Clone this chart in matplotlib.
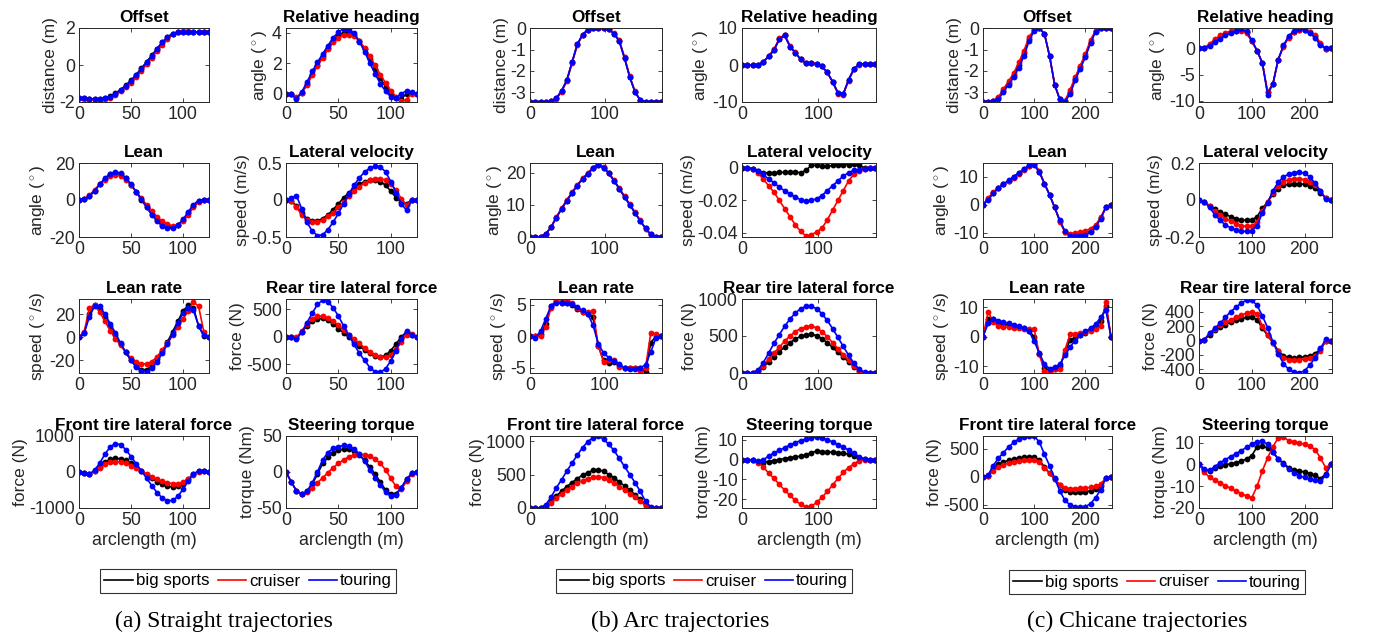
import matplotlib
matplotlib.use("Agg")
import matplotlib.pyplot as plt
from matplotlib.lines import Line2D
from matplotlib.ticker import FuncFormatter

plt.rcParams['font.family'] = ['Liberation Sans', 'DejaVu Sans']
plt.rcParams['mathtext.fontset'] = 'custom'
plt.rcParams['mathtext.rm'] = 'Liberation Sans'
plt.rcParams['axes.unicode_minus'] = False

# arclength samples (m)
s_x = list(range(0, 126, 5))    # straight
a_x = list(range(0, 176, 7))    # arc
c_x = list(range(0, 251, 10))   # chicane

series_names = ['big sports', 'cruiser', 'touring']
captions = ['(a) Straight trajectories', '(b) Arc trajectories', '(c) Chicane trajectories']
titles = ['Offset', 'Relative heading', 'Lean', 'Lateral velocity',
          'Lean rate', 'Rear tire lateral force', 'Front tire lateral force', 'Steering torque']
ylabels = ['distance (m)', r'angle ($^\circ$)', r'angle ($^\circ$)', 'speed (m/s)',
           r'speed ($^\circ$/s)', 'force (N)', 'force (N)', 'torque (Nm)']

# ---------------- straight ----------------
s_offset_big = [-1.78, -1.80, -1.83, -1.85, -1.85, -1.80, -1.70, -1.53, -1.33, -1.10, -0.83, -0.52, -0.18, 0.17, 0.52, 0.88, 1.22, 1.50, 1.70, 1.78, 1.80, 1.80, 1.78, 1.77, 1.76, 1.76]
s_offset_cru = [-1.78, -1.82, -1.85, -1.88, -1.88, -1.85, -1.77, -1.62, -1.43, -1.20, -0.95, -0.65, -0.32, 0.03, 0.40, 0.75, 1.10, 1.42, 1.65, 1.78, 1.83, 1.83, 1.80, 1.78, 1.76, 1.76]
s_offset_tour = [-1.78, -1.80, -1.83, -1.85, -1.85, -1.81, -1.71, -1.55, -1.35, -1.12, -0.85, -0.55, -0.20, 0.15, 0.50, 0.88, 1.22, 1.50, 1.70, 1.78, 1.80, 1.80, 1.78, 1.77, 1.76, 1.76]

s_head_big = [0, -0.05, -0.30, 0.05, 0.60, 1.30, 1.90, 2.45, 3.00, 3.45, 3.80, 4.00, 4.00, 3.85, 3.45, 2.90, 2.25, 1.60, 1.00, 0.45, 0.00, -0.30, -0.35, 0.00, 0.05, 0.00]
s_head_cru = [0, -0.05, -0.25, 0.05, 0.55, 1.20, 1.80, 2.35, 2.90, 3.35, 3.65, 3.85, 3.85, 3.75, 3.45, 3.00, 2.45, 1.85, 1.25, 0.70, 0.20, -0.20, -0.50, -0.40, 0.00, 0.00]
s_head_tour = [0, -0.05, -0.35, 0.10, 0.75, 1.45, 2.05, 2.60, 3.15, 3.65, 4.05, 4.25, 4.20, 3.95, 3.40, 2.75, 2.00, 1.30, 0.65, 0.15, -0.20, -0.30, 0.00, 0.18, 0.10, 0.00]

s_lean_big = [0, 0.3, 2.0, 5.0, 8.5, 11.5, 14.0, 14.8, 14.0, 11.8, 8.3, 4.3, 0.2, -3.8, -7.7, -11.0, -13.5, -14.6, -14.8, -13.5, -11.0, -7.0, -3.0, -0.5, 0, 0]
s_lean_cru = [0, 0.5, 2.5, 5.5, 8.5, 11.0, 13.0, 13.5, 13.0, 11.0, 8.0, 4.5, 1.0, -2.5, -6.0, -9.0, -11.5, -13.0, -14.0, -13.5, -11.5, -8.0, -4.0, -1.0, 0, 0]
s_lean_tour = [0, 0.3, 2.0, 5.0, 8.5, 11.8, 14.3, 15.3, 14.5, 12.0, 8.5, 4.5, 0.3, -4.0, -8.0, -11.5, -14.0, -15.3, -15.3, -13.5, -10.5, -6.5, -2.5, -0.3, 0, 0]

s_latv_big = [0, -0.01, -0.08, -0.18, -0.25, -0.28, -0.28, -0.25, -0.20, -0.13, -0.05, 0.03, 0.10, 0.16, 0.21, 0.25, 0.27, 0.27, 0.25, 0.20, 0.12, 0.03, -0.03, -0.05, 0, 0]
s_latv_cru = [0, -0.01, -0.10, -0.20, -0.27, -0.30, -0.30, -0.27, -0.22, -0.17, -0.10, -0.03, 0.05, 0.12, 0.18, 0.23, 0.27, 0.29, 0.29, 0.27, 0.22, 0.13, 0.02, -0.07, 0, 0]
s_latv_tour = [0, 0.03, 0.06, -0.12, -0.30, -0.42, -0.48, -0.47, -0.40, -0.30, -0.18, -0.05, 0.08, 0.20, 0.30, 0.38, 0.43, 0.46, 0.45, 0.38, 0.25, 0.10, -0.05, -0.14, 0, 0]

s_rate_big = [0, 4, 20, 28, 25, 18, 10, 2, -6, -13, -20, -25, -28, -28, -25, -19, -12, -4, 5, 14, 23, 28, 26, 10, 1, 0]
s_rate_cru = [0, 5, 26, 28, 22, 14, 6, -1, -7, -13, -18, -21, -23, -23, -21, -17, -11, -5, 2, 9, 16, 23, 31, 27, 5, 0]
s_rate_tour = [0, 4, 18, 27.5, 27, 20, 12, 4, -5, -13, -20, -26, -29.5, -30, -27, -21, -14, -6, 3, 13, 21, 25.5, 24, 10, 2, 0]

s_rear_big = [0, -5, -20, 90, 200, 290, 330, 335, 300, 230, 150, 70, -10, -90, -170, -240, -300, -350, -375, -340, -250, -130, 0, 90, 40, 0]
s_rear_cru = [0, 0, -10, 100, 230, 330, 375, 380, 350, 290, 210, 120, 40, -40, -120, -200, -280, -340, -375, -375, -330, -230, -100, 40, 50, 0]
s_rear_tour = [0, -5, -40, 80, 260, 430, 590, 670, 640, 530, 380, 200, 30, -140, -300, -430, -560, -640, -650, -580, -440, -250, -40, 100, 40, 0]

s_front_big = [0, -30, -60, 30, 150, 270, 350, 380, 370, 320, 240, 140, 30, -80, -180, -270, -340, -390, -420, -400, -320, -200, -60, 20, 20, 0]
s_front_cru = [0, -20, -50, 20, 120, 210, 270, 290, 280, 240, 180, 110, 30, -50, -130, -200, -260, -300, -320, -320, -280, -190, -70, 10, 20, 0]
s_front_tour = [0, -30, -60, 50, 250, 500, 700, 790, 760, 620, 430, 230, 30, -170, -380, -570, -720, -800, -790, -680, -480, -250, -50, 30, 30, 0]

s_torq_big = [0, -14, -26, -31, -27, -17, -3, 12, 21, 26, 30, 32, 32, 29, 24, 16, 7, -3, -14, -25, -31, -30, -22, -10, -2, 0]
s_torq_cru = [0, -14, -26, -31, -28, -22, -15, -8, -1, 6, 12, 17, 21, 24, 25, 24, 22, 18, 12, 3, -9, -20, -24, -13, -3, 0]
s_torq_tour = [0, -14, -26, -31, -27, -15, 0, 17, 27, 33, 35, 37, 36, 32, 25, 15, 3, -8, -18, -28, -34, -32, -22, -10, -2, 0]

# ---------------- arc ----------------
a_offset_big = [-3.45, -3.45, -3.45, -3.45, -3.43, -3.30, -2.95, -2.45, -1.60, -0.75, -0.30, -0.06, 0, 0, 0, -0.05, -0.25, -0.60, -1.40, -2.30, -3.00, -3.38, -3.45, -3.45, -3.45, -3.45]
a_offset_cru = [-3.45, -3.45, -3.45, -3.45, -3.44, -3.33, -3.00, -2.50, -1.65, -0.80, -0.32, -0.07, 0, 0, 0, -0.04, -0.22, -0.55, -1.35, -2.25, -2.97, -3.40, -3.46, -3.46, -3.45, -3.45]
a_offset_tour = [-3.45, -3.45, -3.45, -3.45, -3.43, -3.30, -2.95, -2.45, -1.60, -0.75, -0.30, -0.06, 0, 0, 0, -0.05, -0.25, -0.60, -1.40, -2.30, -3.00, -3.38, -3.45, -3.45, -3.45, -3.45]

a_head_big = [0, 0, 0, 0.1, 0.8, 2.3, 4.0, 7.0, 8.0, 5.0, 3.3, 1.5, 0.5, 0.5, 0.3, -0.4, -2.0, -4.5, -7.5, -7.8, -4.0, -1.0, 0.2, 0.3, 0.2, 0.2]
a_head_cru = [0, 0, 0, 0.1, 0.9, 2.5, 4.2, 7.2, 8.2, 5.2, 3.4, 1.6, 0.6, 0.6, 0.4, -0.3, -2.0, -4.6, -7.8, -8.0, -4.2, -1.2, 0, 0.3, 0.3, 0.2]
a_head_tour = [0, 0, 0, 0.1, 0.8, 2.3, 4.0, 7.0, 8.0, 5.0, 3.3, 1.5, 0.5, 0.5, 0.3, -0.4, -2.0, -4.5, -7.5, -7.8, -4.0, -1.0, 0.2, 0.3, 0.2, 0.2]

a_lean_big = [0, 0, 0.1, 1.0, 3.0, 6.0, 8.7, 11.3, 13.7, 16.0, 18.0, 19.7, 21.3, 22.5, 21.6, 19.8, 17.5, 15.0, 12.5, 10.0, 7.5, 5.0, 2.7, 0.8, 0.1, 0]
a_lean_cru = [0, 0, 0.1, 1.0, 3.1, 6.2, 8.9, 11.5, 13.9, 16.2, 18.2, 19.9, 21.6, 22.9, 21.8, 20.0, 17.7, 15.2, 12.7, 10.2, 7.7, 5.2, 2.6, 0.6, 0, 0]
a_lean_tour = [0, 0, 0.1, 1.0, 3.0, 6.0, 8.7, 11.3, 13.7, 16.0, 18.0, 19.7, 21.3, 22.4, 21.6, 19.8, 17.5, 15.0, 12.5, 10.0, 7.5, 5.0, 2.7, 0.8, 0.1, 0]

a_latv_big = [0, 0, -0.0005, -0.002, -0.003, -0.003, -0.003, -0.0028, -0.0027, -0.0027, -0.0025, -0.003, -0.0015, 0.0015, 0.0015, 0.001, 0.001, 0.0015, 0.0015, 0.002, 0.002, 0.0025, 0.0015, 0, 0, 0]
a_latv_cru = [0, 0, -0.0005, -0.003, -0.007, -0.011, -0.015, -0.020, -0.025, -0.030, -0.035, -0.039, -0.042, -0.041, -0.0395, -0.037, -0.032, -0.026, -0.020, -0.014, -0.008, -0.004, -0.002, -0.0005, 0, 0]
a_latv_tour = [0, 0, -0.0005, -0.002, -0.004, -0.007, -0.009, -0.012, -0.014, -0.016, -0.018, -0.0195, -0.0205, -0.020, -0.019, -0.017, -0.014, -0.011, -0.008, -0.005, -0.003, -0.0015, -0.001, -0.0005, 0, 0]

a_rate_big = [0, 0, 0.3, 2.0, 4.8, 5.6, 5.4, 5.3, 5.0, 4.3, 3.8, 3.6, 3.0, -1.5, -3.8, -4.2, -4.0, -4.6, -5.0, -5.0, -5.0, -5.0, -5.7, -1.0, 0, 0]
a_rate_cru = [0, 0, 0, 1.5, 4.5, 5.8, 5.3, 5.8, 5.3, 4.5, 3.8, 3.8, 4.0, -1.5, -4.0, -3.8, -3.7, -4.8, -5.0, -5.0, -5.0, -5.5, -5.0, 0.5, 0.3, 0]
a_rate_tour = [0, -0.2, 0.8, 2.8, 4.8, 5.2, 5.3, 5.3, 5.1, 4.6, 4.1, 3.5, 1.8, -1.2, -2.6, -3.4, -3.9, -4.4, -5.0, -5.1, -5.1, -5.0, -4.5, -2.5, -0.2, 0]

a_rear_big = [0, 0, 5, 25, 80, 150, 220, 290, 350, 410, 460, 495, 515, 525, 505, 465, 410, 345, 280, 215, 150, 85, 30, 5, 0, 0]
a_rear_cru = [0, 0, 5, 30, 100, 190, 270, 350, 430, 500, 560, 600, 625, 635, 610, 560, 490, 410, 330, 250, 170, 90, 30, 0, 0, 0]
a_rear_tour = [0, 0, 5, 40, 140, 270, 400, 520, 630, 730, 810, 870, 900, 900, 870, 800, 710, 600, 480, 360, 240, 130, 50, 10, 0, 0]

a_front_big = [0, 0, 5, 30, 100, 180, 250, 320, 380, 440, 490, 530, 560, 570, 550, 500, 450, 390, 330, 270, 200, 130, 50, 5, 0, 0]
a_front_cru = [0, 0, 3, 20, 80, 150, 210, 270, 320, 370, 410, 440, 460, 470, 455, 415, 370, 320, 270, 215, 160, 100, 35, 3, 0, 0]
a_front_tour = [0, 0, 5, 50, 160, 300, 420, 550, 670, 790, 900, 990, 1050, 1070, 1030, 950, 860, 740, 620, 500, 380, 250, 100, 15, 0, 0]

a_torq_big = [0, 0, -0.3, -1.2, -1.5, -1.0, -0.5, 0, 0.5, 1.0, 1.3, 1.7, 2.3, 3.5, 4.2, 4.0, 3.8, 3.7, 3.5, 3.2, 2.7, 2.0, 1.0, 0.2, 0, 0]
a_torq_cru = [0, 0, -0.2, -1.5, -3.8, -6.8, -9.5, -12.5, -15.3, -18.0, -20.5, -22.5, -23.8, -23.5, -21.5, -19.0, -16.0, -12.8, -9.5, -6.5, -4.0, -2.2, -0.5, 0, 0, 0]
a_torq_tour = [0, 0, -0.3, -0.8, -0.2, 1.8, 3.3, 4.6, 6.0, 7.3, 8.5, 9.5, 10.3, 11.0, 11.2, 10.6, 9.9, 8.8, 7.5, 6.2, 4.8, 3.2, 1.4, 0.2, 0, 0]

# ---------------- chicane ----------------
c_offset_big = [-3.45, -3.45, -3.43, -3.30, -2.93, -2.58, -2.20, -1.73, -1.18, -0.50, -0.08, 0, -0.25, -1.30, -2.65, -3.35, -3.44, -3.00, -2.38, -1.83, -1.28, -0.62, -0.12, 0, 0, 0]
c_offset_cru = [-3.45, -3.45, -3.42, -3.25, -2.85, -2.50, -2.10, -1.60, -1.05, -0.40, -0.05, 0, -0.25, -1.30, -2.65, -3.35, -3.42, -2.90, -2.30, -1.75, -1.20, -0.55, -0.10, 0, 0, 0]
c_offset_tour = [-3.45, -3.45, -3.44, -3.33, -3.00, -2.65, -2.30, -1.85, -1.30, -0.60, -0.10, 0, -0.25, -1.30, -2.65, -3.35, -3.45, -3.10, -2.45, -1.90, -1.35, -0.70, -0.15, 0, 0, 0]

c_head_big = [0, 0, 0.6, 1.4, 2.1, 2.6, 3.0, 3.3, 3.4, 3.0, 1.4, -0.5, -2.8, -8.4, -6.8, -2.2, 0.4, 2.1, 3.1, 3.5, 3.4, 3.0, 2.2, 0.7, -0.1, 0]
c_head_cru = [0, 0, 0.8, 1.7, 2.4, 2.9, 3.2, 3.4, 3.3, 2.8, 1.3, -0.5, -2.8, -8.3, -6.8, -2.2, 0.3, 2.0, 3.0, 3.4, 3.5, 3.1, 2.4, 1.0, -0.2, 0]
c_head_tour = [0, 0, 0.4, 1.1, 1.8, 2.4, 2.9, 3.3, 3.6, 3.2, 1.5, -0.5, -2.8, -8.8, -6.8, -2.2, 0.5, 2.3, 3.3, 3.7, 3.4, 2.9, 2.0, 0.5, 0, 0]

c_lean_big = [0, 2.0, 4.2, 5.9, 7.3, 8.5, 9.8, 11.2, 12.5, 13.8, 14.3, 11.7, 7.5, 3.5, -1.0, -5.8, -9.6, -10.7, -10.8, -10.7, -10.2, -9.2, -7.6, -4.8, -0.9, 0]
c_lean_cru = [0, 2.3, 4.5, 6.0, 7.3, 8.3, 9.6, 11.0, 12.3, 13.6, 14.6, 12.0, 7.5, 3.5, -1.0, -6.0, -9.8, -10.3, -10.0, -9.8, -9.3, -8.5, -7.2, -4.5, -0.8, 0]
c_lean_tour = [0, 1.8, 4.0, 5.8, 7.3, 8.6, 10.0, 11.3, 12.6, 14.0, 14.0, 11.5, 7.5, 3.5, -1.0, -5.5, -9.5, -11.0, -11.3, -11.3, -10.8, -9.8, -8.0, -5.0, -1.0, 0]

c_latv_big = [0, -0.01, -0.03, -0.05, -0.065, -0.078, -0.09, -0.10, -0.107, -0.11, -0.108, -0.09, -0.045, -0.01, 0.03, 0.06, 0.08, 0.085, 0.087, 0.087, 0.085, 0.078, 0.065, 0.04, 0.01, 0]
c_latv_cru = [0, -0.01, -0.035, -0.06, -0.08, -0.10, -0.115, -0.128, -0.138, -0.143, -0.143, -0.12, -0.06, -0.01, 0.04, 0.075, 0.10, 0.11, 0.115, 0.115, 0.11, 0.10, 0.08, 0.05, 0.01, 0]
c_latv_tour = [0, -0.01, -0.04, -0.08, -0.11, -0.135, -0.15, -0.162, -0.168, -0.17, -0.165, -0.14, -0.07, -0.015, 0.05, 0.095, 0.125, 0.14, 0.148, 0.15, 0.145, 0.125, 0.09, 0.05, 0.005, 0]

c_rate_big = [0, 6.0, 6.0, 4.8, 4.3, 4.0, 3.6, 3.2, 2.8, 2.0, 0.0, -5.8, -10.5, -11.5, -10.8, -10.0, -5.5, -1.0, -0.3, 0.6, 1.4, 2.3, 3.6, 5.5, 10.5, 0]
c_rate_cru = [0, 8.5, 5.0, 3.5, 3.3, 3.2, 3.0, 2.8, 2.5, 2.5, 2.6, -6.0, -11.5, -12.0, -11.0, -10.8, -4.5, 0.8, 1.0, 1.2, 1.6, 2.0, 2.6, 3.5, 11.8, 0]
c_rate_tour = [0, 4.5, 6.0, 5.4, 5.0, 4.6, 4.1, 3.5, 2.8, 1.8, -1.5, -5.5, -9.3, -10.8, -10.2, -9.4, -6.3, -3.5, -1.3, 0.5, 1.8, 2.9, 4.3, 6.6, 9.0, 0]

c_rear_big = [0, 5, 80, 140, 185, 220, 255, 280, 300, 320, 325, 290, 170, 70, -30, -140, -210, -235, -240, -235, -225, -210, -180, -120, -10, 0]
c_rear_cru = [0, 10, 100, 160, 210, 250, 290, 320, 350, 380, 400, 370, 200, 80, -30, -150, -240, -270, -270, -265, -255, -240, -210, -140, -10, 0]
c_rear_tour = [0, 10, 100, 170, 240, 320, 400, 460, 520, 560, 555, 490, 340, 180, -20, -180, -320, -400, -440, -445, -420, -340, -240, -110, 15, 0]

c_front_big = [0, 20, 150, 220, 260, 290, 310, 330, 345, 360, 355, 290, 180, 60, -40, -150, -240, -265, -270, -270, -265, -250, -220, -160, -20, 0]
c_front_cru = [0, 15, 110, 170, 210, 240, 260, 275, 290, 300, 300, 260, 160, 60, -40, -140, -200, -210, -210, -205, -200, -190, -170, -130, -20, 0]
c_front_tour = [0, 30, 200, 330, 430, 530, 610, 670, 710, 725, 720, 620, 400, 200, -30, -250, -420, -500, -535, -545, -530, -480, -370, -230, -20, 0]

c_torq_big = [0, -2.5, -3.0, -1.5, -0.8, -0.2, 0.3, 0.8, 1.5, 2.5, 4.0, 8.0, 8.5, 7.5, 5.5, 2.5, 0.5, -1.5, -2.5, -3.0, -3.5, -4.2, -5.0, -6.5, -4.5, 0]
c_torq_cru = [0, -3.5, -6.0, -7.3, -8.5, -9.8, -11.0, -12.2, -13.4, -14.5, -15.3, -10.0, -3.0, 3.0, 8.0, 12.2, 12.5, 10.8, 10.3, 9.8, 9.2, 8.3, 6.8, 3.0, -1.5, 0]
c_torq_tour = [0, -2.0, -2.8, -1.0, 0.8, 2.2, 3.6, 4.9, 6.3, 7.8, 9.3, 10.4, 10.6, 9.2, 5.8, 2.5, 0.3, -2.0, -4.0, -5.2, -6.0, -6.7, -7.3, -7.8, -5.0, 0]

groups = [
    dict(x=s_x, xlim=(0, 125), xticks=[0, 50, 100], data=[
        (s_offset_big, s_offset_cru, s_offset_tour, (-2, 2), [-2, 0, 2]),
        (s_head_big, s_head_cru, s_head_tour, (-0.55, 4.3), [0, 2, 4]),
        (s_lean_big, s_lean_cru, s_lean_tour, (-20, 20), [-20, 0, 20]),
        (s_latv_big, s_latv_cru, s_latv_tour, (-0.5, 0.5), [-0.5, 0, 0.5]),
        (s_rate_big, s_rate_cru, s_rate_tour, (-31, 33.5), [-20, 0, 20]),
        (s_rear_big, s_rear_cru, s_rear_tour, (-660, 690), [-500, 0, 500]),
        (s_front_big, s_front_cru, s_front_tour, (-1000, 1000), [-1000, 0, 1000]),
        (s_torq_big, s_torq_cru, s_torq_tour, (-50, 50), [-50, 0, 50]),
    ]),
    dict(x=a_x, xlim=(0, 176), xticks=[0, 100], data=[
        (a_offset_big, a_offset_cru, a_offset_tour, (-3.47, 0.02), [-3, -2, -1, 0]),
        (a_head_big, a_head_cru, a_head_tour, (-10, 10), [-10, 0, 10]),
        (a_lean_big, a_lean_cru, a_lean_tour, (0, 23), [0, 10, 20]),
        (a_latv_big, a_latv_cru, a_latv_tour, (-0.0425, 0.003), [-0.04, -0.02, 0]),
        (a_rate_big, a_rate_cru, a_rate_tour, (-5.8, 5.9), [-5, 0, 5]),
        (a_rear_big, a_rear_cru, a_rear_tour, (0, 1000), [0, 500, 1000]),
        (a_front_big, a_front_cru, a_front_tour, (0, 1075), [0, 500, 1000]),
        (a_torq_big, a_torq_cru, a_torq_tour, (-24.3, 11.8), [-20, -10, 0, 10]),
    ]),
    dict(x=c_x, xlim=(0, 252), xticks=[0, 100, 200], data=[
        (c_offset_big, c_offset_cru, c_offset_tour, (-3.47, 0.02), [-3, -2, -1, 0]),
        (c_head_big, c_head_cru, c_head_tour, (-10.2, 3.8), [-10, -5, 0]),
        (c_lean_big, c_lean_cru, c_lean_tour, (-11.5, 14.8), [-10, 0, 10]),
        (c_latv_big, c_latv_cru, c_latv_tour, (-0.2, 0.2), [-0.2, 0, 0.2]),
        (c_rate_big, c_rate_cru, c_rate_tour, (-12.3, 12.8), [-10, 0, 10]),
        (c_rear_big, c_rear_cru, c_rear_tour, (-450, 575), [-400, -200, 0, 200, 400]),
        (c_front_big, c_front_cru, c_front_tour, (-555, 725), [-500, 0, 500]),
        (c_torq_big, c_torq_cru, c_torq_tour, (-20, 13), [-20, -10, 0, 10]),
    ]),
]

# layout in pixels (figure 1380 x 642)
W, H = 1380, 642
col_px = [[(79, 130), (286, 131)], [(530, 132), (742, 134)], [(983, 129), (1199, 133)]]
row_px = [(28, 74), (163, 74), (299, 74), (436, 72)]
legend_px = [(248, 581), (704, 581), (1157, 582)]
caption_px = [(224, 621), (680, 621), (1137, 621)]
colors = ['k', 'r', 'b']
gray = '0.15'
plain = FuncFormatter(lambda v, p: '%g' % v)

fig = plt.figure(figsize=(W / 100, H / 100), dpi=100)

for g, grp in enumerate(groups):
    for i, (big, cru, tour, ylim, yticks) in enumerate(grp['data']):
        r, c = divmod(i, 2)
        left, w = col_px[g][c]
        top, h = row_px[r]
        ax = fig.add_axes([left / W, 1 - (top + h) / H, w / W, h / H])
        for ys, col in zip((big, cru, tour), colors):
            ax.plot(grp['x'], ys, color=col, lw=1.2, marker='o', ms=4.2, mew=0)
        ax.set_xlim(grp['xlim'])
        ax.set_ylim(ylim)
        ax.set_xticks(grp['xticks'])
        ax.set_yticks(yticks)
        ax.yaxis.set_major_formatter(plain)
        ax.tick_params(direction='in', length=3, width=0.6, top=True, right=True,
                       labelsize=12.8, colors=gray, pad=3)
        for sp in ax.spines.values():
            sp.set_color(gray)
            sp.set_linewidth(0.7)
        ax.set_title(titles[i], fontsize=12.3, fontweight='bold', pad=4.5)
        ax.set_ylabel(ylabels[i], fontsize=12.5, color=gray, labelpad=1)
        if r == 3:
            ax.set_xlabel('arclength (m)', fontsize=12.8, color=gray, labelpad=2)

    handles = [Line2D([], [], color=col, lw=1.2) for col in colors]
    lx, ly = legend_px[g]
    leg = fig.legend(handles, series_names, ncol=3, loc='center',
                     bbox_to_anchor=(lx / W, 1 - ly / H), fontsize=12.2,
                     frameon=True, fancybox=False, edgecolor='k',
                     handlelength=1.7, handletextpad=0.15, columnspacing=0.5,
                     borderpad=0.25, borderaxespad=0)
    leg.get_frame().set_linewidth(0.8)
    cx, cy = caption_px[g]
    fig.text(cx / W, 1 - cy / H, captions[g], ha='center', va='center',
             fontsize=17, family='Liberation Serif')

fig.savefig('out.png', dpi=100)
